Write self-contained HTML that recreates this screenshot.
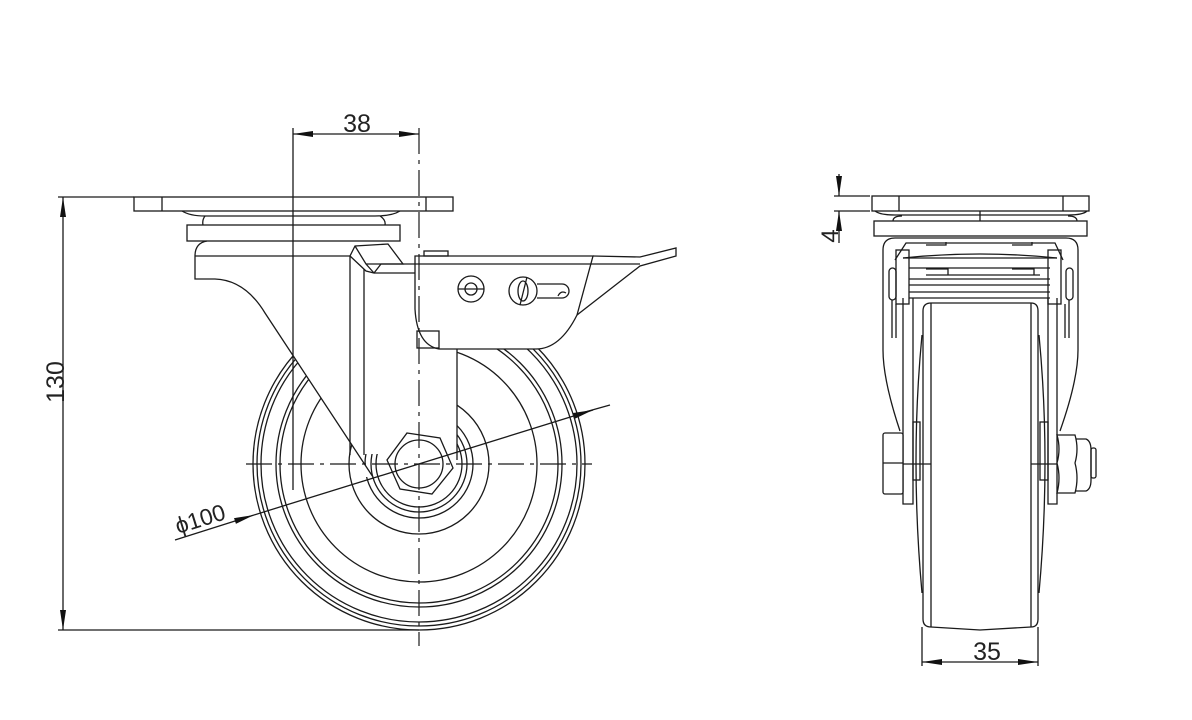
<!DOCTYPE html>
<html><head><meta charset="utf-8"><style>html,body{margin:0;padding:0;background:#fff}svg{display:block}</style></head><body>
<svg width="1192" height="720" viewBox="0 0 1192 720" xmlns="http://www.w3.org/2000/svg" fill="none" stroke="#1a1a1a" stroke-width="1.3" font-family="Liberation Sans, sans-serif">
<defs>
<marker id="a" viewBox="0 0 20 6" refX="20" refY="3" markerWidth="20" markerHeight="6" orient="auto-start-reverse" markerUnits="userSpaceOnUse"><path d="M0,0 L20,3 L0,6Z" fill="#111" stroke="none"/></marker>
</defs>
<!-- ===== LEFT VIEW ===== -->
<g>
<circle cx="419" cy="464" r="166"/>
<circle cx="419" cy="464" r="162"/>
<circle cx="419" cy="464" r="158"/>
<circle cx="419" cy="464" r="143"/>
<circle cx="419" cy="464" r="139"/>
<circle cx="419" cy="464" r="118"/>
<circle cx="419" cy="464" r="70"/>
<circle cx="419" cy="464" r="54"/>
<circle cx="419" cy="464" r="48"/>
<circle cx="419" cy="464" r="43"/>
</g>
<rect x="364" y="270" width="93" height="184" fill="#fff" stroke="none"/>
<polygon points="265,313 373,477 364,477 364,300" fill="#fff" stroke="none"/>
<polygon points="407,433 440,438 453,468 432,494 400,489 387,460" fill="#fff"/>
<circle cx="419" cy="464" r="24"/>
<rect x="134" y="197" width="319" height="14"/>
<line x1="162" y1="197" x2="162" y2="211"/>
<line x1="426" y1="197" x2="426" y2="211"/>
<path d="M182,211 Q190,216 205,216 L375,216 Q392,216 400,211"/>
<path d="M205,216 Q202,220 203,225 M380,216 Q386,220 385,225"/>
<rect x="187" y="225" width="213" height="16"/>
<path d="M207,241 Q195,243 195,256 L195,279 L215,279 Q245,280 265,313 L373,477"/>
<line x1="195" y1="256" x2="350" y2="256"/>
<line x1="350" y1="256" x2="350" y2="455"/>
<line x1="364" y1="264" x2="364" y2="455"/>
<line x1="457" y1="337" x2="457" y2="460"/>
<path d="M350,256 L355,246 L388,244 L403,264 L381,264 L374,273 L366,271 Z" fill="#fff"/>
<path d="M355,246 L366,264 L374,273 M366,264 L381,264"/>
<line x1="381" y1="264" x2="415" y2="264"/>
<line x1="374" y1="273" x2="415" y2="273"/>
<path d="M415,256 L593,256 L577,315 Q560,349 536,349 L439,349 Q417,345 415,309 Z" fill="#fff"/>
<line x1="415" y1="264" x2="640" y2="264"/>
<path d="M593,256 L640,257 L676,248 L676,256 L640,266 L577,315"/>
<rect x="417" y="331" width="22" height="17"/>
<rect x="424" y="251" width="24" height="5"/>
<circle cx="471" cy="289" r="13"/>
<circle cx="471" cy="289" r="6"/>
<line x1="458" y1="289" x2="484" y2="289"/>
<circle cx="523" cy="291" r="14"/>
<ellipse cx="523" cy="291" rx="5" ry="10"/>
<path d="M537,284 L562,284 A7,7 0 0 1 562,298 L537,298"/>
<path d="M558,296 Q561,290 566,293"/>
<line x1="527" y1="277" x2="520" y2="305"/>
<line x1="419" y1="128" x2="419" y2="646" stroke-dasharray="26,6,4,6" stroke-width="1.2"/>
<line x1="246" y1="464" x2="592" y2="464" stroke-dasharray="26,6,4,6" stroke-width="1.2"/>
<line x1="293" y1="128" x2="293" y2="490"/>
<line x1="293" y1="134" x2="419" y2="134" marker-start="url(#a)" marker-end="url(#a)"/>
<text x="357" y="132" font-size="25" fill="#222" stroke="none" text-anchor="middle">38</text>
<line x1="58" y1="197" x2="134" y2="197"/>
<line x1="58" y1="630" x2="419" y2="630"/>
<line x1="63" y1="197" x2="63" y2="630" marker-start="url(#a)" marker-end="url(#a)"/>
<text transform="translate(64,382) rotate(-90)" font-size="25" fill="#222" stroke="none" text-anchor="middle">130</text>
<line x1="175" y1="540" x2="254" y2="515" marker-end="url(#a)"/>
<line x1="610" y1="405" x2="585" y2="412"/>
<line x1="254" y1="515" x2="593" y2="410" marker-end="url(#a)"/>
<text transform="translate(178,534) rotate(-17.2)" font-size="23" fill="#222" stroke="none">ϕ100</text>

<!-- ===== RIGHT VIEW ===== -->
<rect x="872" y="196" width="217" height="15"/>
<line x1="899" y1="196" x2="899" y2="211"/>
<line x1="1063" y1="196" x2="1063" y2="211"/>
<path d="M875,211 Q880,215 895,215 L1068,215 Q1083,215 1087,211"/>
<line x1="980" y1="211" x2="980" y2="221"/>
<path d="M893,221 Q893,216 902,216 M1068,216 Q1077,216 1077,221"/>
<rect x="874" y="221" width="213" height="15"/>
<path d="M900,431 Q883,380 883,350 L883,250 Q883,238 895,238 L1066,238 Q1078,238 1078,250 L1078,350 Q1078,380 1060,431"/>
<path d="M895,260 L906,243 L1055,243 L1063,260"/>
<path d="M903,258 Q980,250 1057,258"/>
<line x1="903" y1="258" x2="1057" y2="258"/>
<line x1="909" y1="268" x2="1050" y2="268"/>
<path d="M926,275 L1040,275 M926,269 h22 v6 M1012,269 h22 v6"/>
<path d="M926,245 h20 v-3 M1012,245 h20 v-3"/>
<line x1="909" y1="279" x2="1050" y2="279"/>
<line x1="909" y1="285" x2="1050" y2="285"/>
<line x1="909" y1="292" x2="1050" y2="292"/>
<line x1="909" y1="298" x2="1050" y2="298"/>
<rect x="889" y="268" width="7" height="32" rx="3.5"/>
<rect x="1066" y="268" width="7" height="32" rx="3.5"/>
<rect x="896" y="250" width="13" height="54"/>
<rect x="1048" y="250" width="13" height="54"/>
<line x1="896" y1="304" x2="896" y2="338"/>
<line x1="1065" y1="304" x2="1065" y2="338"/>
<line x1="892" y1="300" x2="892" y2="338"/>
<line x1="1069" y1="300" x2="1069" y2="338"/>
<path d="M903,298 L903,504 L913,504 L913,298"/>
<path d="M1048,298 L1048,504 L1057,504 L1057,298"/>
<path d="M922,335 Q910,460 922,593"/>
<path d="M1039,335 Q1051,460 1039,593"/>
<path d="M931,303 L1031,303 Q1038,303 1038,311 L1038,619 Q1038,627 1031,627 L980,630 L931,627 Q923,627 923,619 L923,311 Q923,303 931,303 Z" fill="#fff"/>
<line x1="931" y1="303" x2="931" y2="627"/>
<line x1="1031" y1="303" x2="1031" y2="627"/>
<rect x="913" y="422" width="7" height="58"/>
<rect x="1040" y="422" width="8" height="58"/>
<line x1="903" y1="464" x2="931" y2="464"/>
<line x1="1031" y1="464" x2="1057" y2="464"/>
<rect x="883" y="433" width="20" height="61" rx="2" fill="#fff"/>
<line x1="883" y1="463" x2="903" y2="463"/>
<path d="M1057,435 L1075,435 Q1079,449 1075,463 Q1079,478 1075,493 L1057,493 Q1061,478 1057,463 Q1061,449 1057,435 Z" fill="#fff"/>
<path d="M1076,439 L1086,439 Q1091,441 1091,450 L1091,480 Q1091,489 1086,491 L1076,491"/>
<rect x="1091" y="448" width="5" height="30" rx="2"/>
<line x1="834" y1="196" x2="870" y2="196"/>
<line x1="834" y1="211" x2="870" y2="211"/>
<line x1="839" y1="174" x2="839" y2="196" marker-end="url(#a)"/>
<line x1="839" y1="243" x2="839" y2="211" marker-end="url(#a)"/>
<text transform="translate(838,236) rotate(-90)" font-size="24" fill="#222" stroke="none" text-anchor="middle">4</text>
<line x1="922" y1="627" x2="922" y2="666"/>
<line x1="1038" y1="627" x2="1038" y2="666"/>
<line x1="922" y1="662" x2="1038" y2="662" marker-start="url(#a)" marker-end="url(#a)"/>
<text x="987" y="660" font-size="25" fill="#222" stroke="none" text-anchor="middle">35</text>
</svg>
</body></html>
